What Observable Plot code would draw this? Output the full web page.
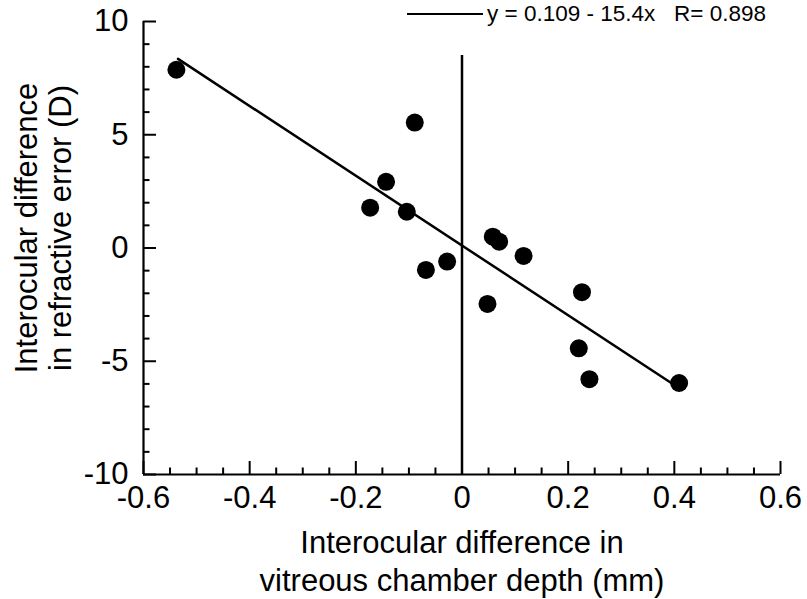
<!DOCTYPE html>
<html>
<head>
<meta charset="utf-8">
<script src="https://cdn.jsdelivr.net/npm/d3@7"></script>
<script src="https://cdn.jsdelivr.net/npm/@observablehq/plot@0.6"></script>
<style>
  body { margin: 0; background: #fff; }
  #wrap { position: relative; width: 807px; height: 599px; font-family: "Liberation Sans", Arial, sans-serif; }
  #legend { position: absolute; left: 407px; top: 2px; height: 24px; display: flex; align-items: center; white-space: pre; font-size: 22.5px; color: #000; }
  #legend svg { display: block; margin-right: 4px; }
</style>
</head>
<body>
<div id="wrap"></div>
<script>
// Interocular difference in vitreous chamber depth (mm)
const vcdDiff = [-0.538, -0.089, -0.143, -0.173, -0.104, 0.058, 0.070, 0.116, -0.028, -0.068, 0.048, 0.226, 0.220, 0.240, 0.409];
// Interocular difference in refractive error (D)
const refDiff = [7.87, 5.54, 2.92, 1.78, 1.60, 0.50, 0.28, -0.35, -0.60, -0.97, -2.47, -1.95, -4.43, -5.79, -5.96];

// Regression line (as printed in legend)
const fitIntercept = 0.109;
const fitSlope = -15.4;
const fitR = 0.898;
const fitXRange = [-0.535, 0.41];

// Vertical reference line at x = 0
const zeroLineX = [0];
const zeroLineYRange = [-10, 8.5];

// Axis ticks
const xTickLabels = [-0.6, -0.4, -0.2, 0, 0.2, 0.4, 0.6];
const yTickLabels = [-10, -5, 0, 5, 10];
const xMinorStep = 0.05;
const yMinorStep = 1;

const xTitle = "Interocular difference in\nvitreous chamber depth (mm)";
const yTitle = "Interocular difference\nin refractive error (D)";
const legendText = `y = ${fitIntercept} - ${Math.abs(fitSlope)}x   R= ${fitR}`;

const points = vcdDiff.map((x, i) => ({x, y: refDiff[i]}));
const fitLine = fitXRange.map(x => ({x, y: fitIntercept + fitSlope * x}));
const zeroLine = zeroLineX.map(x => ({x, y1: zeroLineYRange[0], y2: zeroLineYRange[1]}));

const xMinor = d3.range(-0.6, 0.6001, xMinorStep).filter(v => !xTickLabels.some(t => Math.abs(t - v) < 1e-6));
const yMinor = d3.range(-10, 10.001, yMinorStep).filter(v => !yTickLabels.includes(v));

const W = 807, H = 599, mL = 143, mR = 27, mT = 21, mB = 125;
const plotW = W - mL - mR, plotH = H - mT - mB;
const font = "Liberation Sans, Arial, sans-serif";

const chart = Plot.plot({
  width: W, height: H,
  marginLeft: mL, marginRight: mR, marginTop: mT, marginBottom: mB,
  style: { fontFamily: font, background: "white", color: "black", overflow: "visible" },
  x: { domain: [-0.6, 0.6] },
  y: { domain: [-10, 10] },
  marks: [
    Plot.axisX(xTickLabels, { tickSize: 0, tickPadding: 11, fontSize: 31, tickFormat: d => String(d), label: null }),
    Plot.axisY(yTickLabels, { tickSize: 0, tickPadding: 15, fontSize: 31, tickFormat: d => String(d), label: null }),
    // major ticks (inward)
    Plot.tickX(xTickLabels, { x: d => d, insetTop: plotH - 13, strokeWidth: 2 }),
    Plot.tickY(yTickLabels, { y: d => d, insetRight: plotW - 13, strokeWidth: 2 }),
    // minor ticks (inward)
    Plot.tickX(xMinor, { x: d => d, insetTop: plotH - 6.5, strokeWidth: 2 }),
    Plot.tickY(yMinor, { y: d => d, insetRight: plotW - 6.5, strokeWidth: 2 }),
    // axis lines
    Plot.ruleX([-0.6], { strokeWidth: 2.2 }),
    Plot.ruleY([-10], { strokeWidth: 2.2 }),
    // zero reference line
    Plot.ruleX(zeroLine, { x: "x", y1: "y1", y2: "y2", strokeWidth: 2.5 }),
    // regression line
    Plot.line(fitLine, { x: "x", y: "y", strokeWidth: 2.5 }),
    // points
    Plot.dot(points, { x: "x", y: "y", r: 9, fill: "black", stroke: "none" }),
    // axis titles
    Plot.text([xTitle], { text: d => d, frameAnchor: "bottom", dy: 85, fontSize: 31, lineHeight: 1.23, lineAnchor: "middle", textAnchor: "middle" }),
    Plot.text([yTitle], { text: d => d, frameAnchor: "left", dx: -100, dy: -20, rotate: -90, fontSize: 31, lineHeight: 1.1, lineAnchor: "middle", textAnchor: "middle" })
  ]
});

const wrap = document.getElementById("wrap");
wrap.appendChild(chart);

const legend = document.createElement("div");
legend.id = "legend";
legend.innerHTML = `<svg width="76" height="4"><line x1="0" y1="2" x2="76" y2="2" stroke="black" stroke-width="2"/></svg><span></span>`;
legend.querySelector("span").textContent = legendText;
wrap.appendChild(legend);
</script>
</body>
</html>
